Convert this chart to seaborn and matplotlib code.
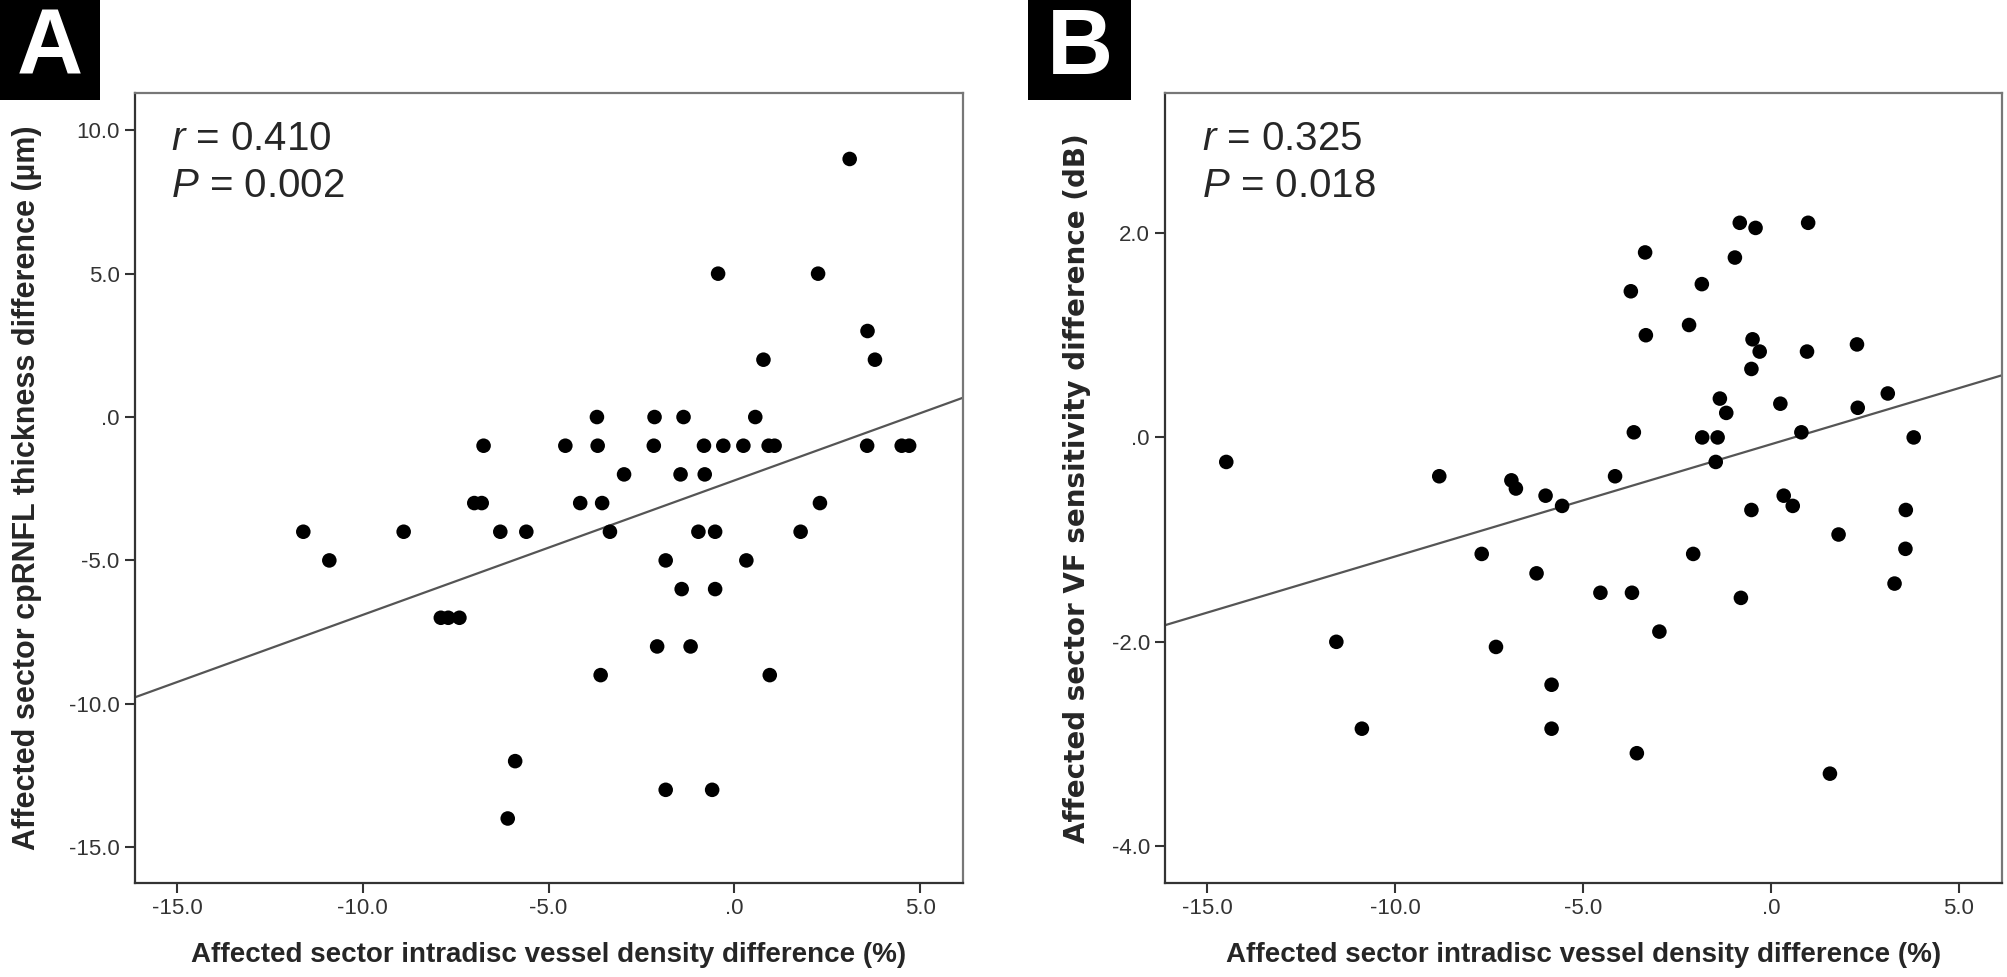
import matplotlib
matplotlib.use("Agg")
import matplotlib.pyplot as plt
from matplotlib.patches import Rectangle
import numpy as np
import pandas as pd
import seaborn as sns

# Panel A: vessel density difference (%) vs cpRNFL thickness difference (um)
a_x = [-11.6, -10.9, -8.9, -7.9, -7.7, -7.4, -7.0, -6.8, -6.75, -6.3, -6.1, -5.9,
       -5.6, -4.55, -4.15, -3.7, -3.68, -3.6, -3.56, -3.35, -2.97, -2.15, -2.17,
       -2.08, -1.85, -1.85, -1.45, -1.42, -1.37, -1.18, -0.97, -0.82, -0.8, -0.6,
       -0.52, -0.52, -0.44, -0.3, 0.24, 0.32, 0.56, 0.78, 0.92, 1.08, 0.95, 1.78,
       2.25, 2.3, 3.1, 3.58, 3.57, 3.78, 4.5, 4.7]
a_y = [-4, -5, -4, -7, -7, -7, -3, -3, -1, -4, -14, -12,
       -4, -1, -3, 0, -1, -9, -3, -4, -2, 0, -1,
       -8, -5, -13, -2, -6, 0, -8, -4, -1, -2, -13,
       -4, -6, 5, -1, -1, -5, 0, 2, -1, -1, -9, -4,
       5, -3, 9, 3, -1, 2, -1, -1]

# Panel B: vessel density difference (%) vs VF sensitivity difference (dB)
b_x = [-14.5, -8.83, -6.91, -6.79, -6.0, -5.56, -7.7, -6.24, -11.57, -7.32, -5.84,
       -10.89, -5.84, -0.83, -0.41, 0.99, -3.35, -0.96, -3.73, -1.84, -2.18, -3.33,
       -0.49, -0.3, 0.96, 2.29, -0.52, 3.11, -1.36, 0.25, -1.19, 2.31, -3.65, -1.83,
       -1.42, 0.81, 3.8, -1.47, -4.15, -0.52, 0.34, 0.58, 3.59, 1.8, -2.07, 3.58,
       3.29, -4.54, -3.7, -0.8, -2.97, -3.57, 1.57]
b_y = [-0.24, -0.38, -0.42, -0.5, -0.57, -0.67, -1.14, -1.33, -2.0, -2.05, -2.42,
       -2.85, -2.85, 2.1, 2.05, 2.1, 1.81, 1.76, 1.43, 1.5, 1.1, 1.0,
       0.96, 0.84, 0.84, 0.91, 0.67, 0.43, 0.38, 0.33, 0.24, 0.29, 0.05, 0.0,
       0.0, 0.05, 0.0, -0.24, -0.38, -0.71, -0.57, -0.67, -0.71, -0.95, -1.14, -1.09,
       -1.43, -1.52, -1.52, -1.57, -1.9, -3.09, -3.29]

x_ticks = [-15, -10, -5, 0, 5]
x_ticklabels = ["-15.0", "-10.0", "-5.0", ".0", "5.0"]
a_yticks = [10, 5, 0, -5, -10, -15]
a_yticklabels = ["10.0", "5.0", ".0", "-5.0", "-10.0", "-15.0"]
b_yticks = [2, 0, -2, -4]
b_yticklabels = ["2.0", ".0", "-2.0", "-4.0"]

x_label = "Affected sector intradisc vessel density difference (%)"
a_ylabel = "Affected sector cpRNFL thickness difference (µm)"
b_ylabel = "Affected sector VF sensitivity difference (dB)"
a_stats = ["0.410", "0.002"]
b_stats = ["0.325", "0.018"]

sns.set_style("ticks")
narrow = ["Liberation Sans", "DejaVu Sans"]
plt.rcParams["font.family"] = ["Liberation Sans", "DejaVu Sans"]
plt.rcParams["mathtext.fontset"] = "custom"
plt.rcParams["mathtext.rm"] = "Liberation Sans"
plt.rcParams["mathtext.it"] = "Liberation Sans:italic"

fig = plt.figure(figsize=(20.08, 9.77), dpi=100)
ax_a = fig.add_axes([0.0672, 0.0962, 0.4124, 0.8086])
ax_b = fig.add_axes([0.5802, 0.0962, 0.4168, 0.8086])

df_a = pd.DataFrame({"x": a_x, "y": a_y})
df_b = pd.DataFrame({"x": b_x, "y": b_y})


def draw_panel(ax, df, ylim, yticks, yticklabels, ylabel, ylabel_font, stats, ylab_x):
    ax.set_xlim(-16.13, 6.15)
    ax.set_ylim(*ylim)
    sns.regplot(data=df, x="x", y="y", ax=ax, scatter=False, ci=None, truncate=False,
                line_kws={"color": "#555555", "lw": 1.6})
    sns.scatterplot(data=df, x="x", y="y", ax=ax, color="black", s=110,
                    edgecolor="none", zorder=3)

    ax.set_xticks(x_ticks)
    ax.set_xticklabels(x_ticklabels, family=narrow, fontsize=16, color="#333333")
    ax.set_yticks(yticks)
    ax.set_yticklabels(yticklabels, family=narrow, fontsize=16, color="#333333")
    ax.tick_params(axis="both", direction="out", length=7, width=1.5, color="#333333", pad=4)

    ax.set_xlabel(x_label, family=narrow, fontsize=20, fontweight="bold")
    ax.xaxis.set_label_coords(0.5, -0.075)
    ax.set_ylabel(ylabel, fontweight="bold", **ylabel_font)
    ax.yaxis.set_label_coords(ylab_x, 0.5)

    for side in ["top", "right"]:
        ax.spines[side].set_color("#777777")
    for side in ["left", "bottom"]:
        ax.spines[side].set_color("#333333")
    for sp in ax.spines.values():
        sp.set_linewidth(1.6)

    ax.text(0.044, 0.928, r"$\mathit{r}$ = " + stats[0], transform=ax.transAxes,
            fontsize=29, va="baseline", ha="left")
    ax.text(0.044, 0.868, r"$\mathit{P}$ = " + stats[1], transform=ax.transAxes,
            fontsize=29, va="baseline", ha="left")


draw_panel(ax_a, df_a, (-16.25, 11.3), a_yticks, a_yticklabels, a_ylabel,
           {"family": narrow, "fontsize": 22}, a_stats, -0.112)
draw_panel(ax_b, df_b, (-4.36, 3.37), b_yticks, b_yticklabels, b_ylabel,
           {"family": ["DejaVu Sans"], "fontsize": 20}, b_stats, -0.088)

# panel letters on black squares
for left, width, letter in [(0.0, 0.0498, "A"), (0.512, 0.0513, "B")]:
    fig.patches.append(Rectangle((left, 0.898), width, 0.102, transform=fig.transFigure,
                                 facecolor="black", edgecolor="none", zorder=5))
    fig.text(left + width / 2, 0.949, letter, color="white", fontsize=66,
             fontweight="bold", ha="center", va="center", zorder=6)

fig.savefig("out.png", dpi=100)
